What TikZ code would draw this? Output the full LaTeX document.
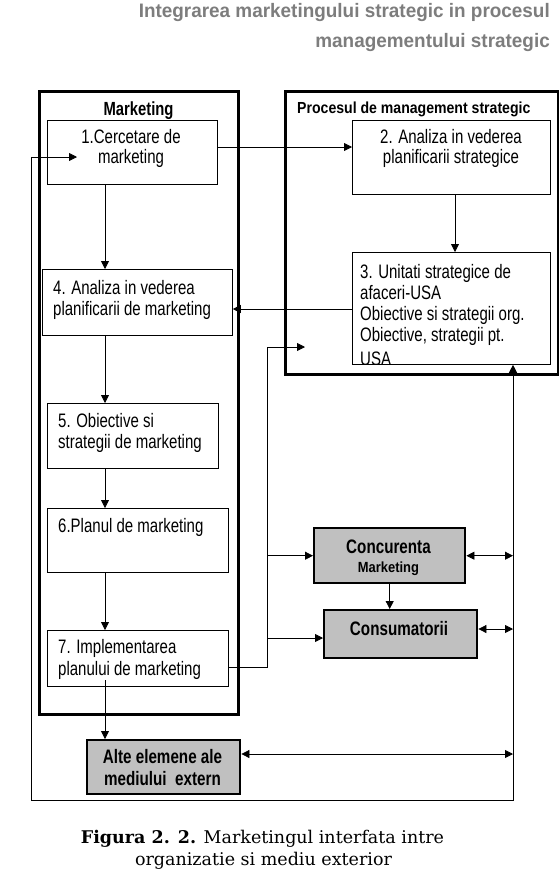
\documentclass[tikz,border=0pt]{standalone}
\usepackage{fontspec}
\setmainfont{Liberation Sans}
\newfontfamily\boxf[FakeStretch=0.77]{Liberation Sans}
\newfontfamily\grayf[FakeStretch=0.78]{Liberation Sans}
\newfontfamily\hdrf[FakeStretch=0.88]{Liberation Sans}
\newfontfamily\titlef[FakeStretch=0.97]{Liberation Sans}
\newfontfamily\capf{DejaVu Serif}
\usetikzlibrary{arrows.meta,calc}
\definecolor{titlegray}{RGB}{125,125,125}
\definecolor{boxgray}{RGB}{192,192,192}
\tikzset{
  wbox/.style={draw, line width=0.8pt, inner sep=0pt, anchor=north west},
  obox/.style={draw, line width=2.6pt, inner sep=0pt, anchor=north west},
  gbox/.style={draw, line width=2.4pt, fill=boxgray, inner sep=0pt, anchor=north west},
  txt/.style={inner sep=0pt, anchor=base west, font=\boxf\fontsize{19.5}{21}\selectfont},
  ctxt/.style={inner sep=0pt, anchor=base, font=\boxf\fontsize{19.5}{21}\selectfont},
  gtxt/.style={inner sep=0pt, anchor=base, font=\grayf\bfseries\fontsize{19.5}{21}\selectfont},
  arr/.style={line width=0.8pt, -{Triangle[length=8pt,width=8pt]}},
  darr/.style={line width=0.8pt, {Triangle[length=8pt,width=8pt]}-{Triangle[length=8pt,width=8pt]}},
}
\begin{document}
\begin{tikzpicture}[x=1pt,y=-1pt]
\useasboundingbox[fill=white] (0,0) rectangle (559,879);

% title
\node[inner sep=0pt, anchor=base east, text=titlegray, font=\titlef\bfseries\fontsize{19.5}{21}\selectfont] (t1) at (550,17) {Integrarea marketingului strategic in procesul};
\node[inner sep=0pt, anchor=base east, text=titlegray, font=\titlef\bfseries\fontsize{19.5}{21}\selectfont] (t2) at (550,47) {managementului strategic};

% outer boxes
\node[obox, minimum width=199pt, minimum height=623pt] (mk) at (38,90) {};
\node[obox, minimum width=273pt, minimum height=283pt] (pm) at (284,90) {};
\node[inner sep=0pt, anchor=base, font=\grayf\bfseries\fontsize{19}{21}\selectfont] (mkl) at (138.5,115) {Marketing};
\node[inner sep=0pt, anchor=base west, font=\hdrf\bfseries\fontsize{16}{18}\selectfont] (pml) at (297,113) {Procesul de management strategic};

% white boxes
\node[wbox, minimum width=170pt, minimum height=64pt] (b1) at (47,120) {};
\node[wbox, minimum width=198pt, minimum height=74pt] (b2) at (352,120) {};
\node[wbox, minimum width=198pt, minimum height=112pt] (b3) at (352,252) {};
\node[wbox, minimum width=190pt, minimum height=66pt] (b4) at (42,269) {};
\node[wbox, minimum width=171pt, minimum height=65pt] (b5) at (47,403) {};
\node[wbox, minimum width=181pt, minimum height=64pt] (b6) at (47,508) {};
\node[wbox, minimum width=181pt, minimum height=56pt] (b7) at (47,630) {};

% gray boxes
\node[gbox, minimum width=151pt, minimum height=55pt] (conc) at (313,527) {};
\node[gbox, minimum width=153pt, minimum height=48pt] (cons) at (323,609) {};
\node[gbox, minimum width=153pt, minimum height=54pt] (alte) at (86,739) {};

% box texts
\node[ctxt] (b1a) at (131,143) {1.Cercetare de};
\node[ctxt] (b1b) at (131,163) {marketing};
\node[ctxt] (b2a) at (451,143) {2. Analiza in vederea};
\node[ctxt] (b2b) at (451,163) {planificarii strategice};
\begin{scope}
\clip (352.4,252.4) rectangle (549.6,363.2);
\node[txt] (b3a) at (360,278) {3. Unitati strategice de};
\node[txt] (b3b) at (360,299) {afaceri-USA};
\node[txt] (b3c) at (360,320) {Obiective si strategii org.};
\node[txt] (b3d) at (360,341) {Obiective, strategii pt.};
\node[txt] (b3e) at (360,365) {USA};
\end{scope}
\node[txt] (b4a) at (53,294) {4. Analiza in vederea};
\node[txt] (b4b) at (53,315) {planificarii de marketing};
\node[txt] (b5a) at (58,427) {5. Obiective si};
\node[txt] (b5b) at (58,448) {strategii de marketing};
\node[txt] (b6a) at (58,532) {6.Planul de marketing};
\node[txt] (b7a) at (58,653) {7. Implementarea};
\node[txt] (b7b) at (58,675) {planului de marketing};

\node[gtxt] (conca) at (388.5,553) {Concurenta};
\node[inner sep=0pt, anchor=base, font=\hdrf\bfseries\fontsize{14.7}{16}\selectfont] (concb) at (388.5,572) {Marketing};
\node[gtxt] (consa) at (399,635) {Consumatorii};
\node[gtxt] (altea) at (162.5,763) {Alte elemene ale};
\node[gtxt] (alteb) at (162.5,785) {mediului\ \ extern};

% caption
\node[inner sep=0pt, anchor=base, font=\capf\fontsize{17.5}{20}\selectfont] (cap1) at (262.5,843) {\textbf{Figura 2. 2.} Marketingul interfata intre};
\node[inner sep=0pt, anchor=base, font=\capf\fontsize{17.5}{20}\selectfont] (cap2) at (263.5,865) {organizatie si mediu exterior};

% helper coordinates
\coordinate (vx) at (105,0);
\coordinate (vx2) at (455,0);
\coordinate (h12) at (0,147);
\coordinate (h34) at (0,309);
\coordinate (j1) at (267,667);
\coordinate (j2) at (267,347);
\coordinate (tipP) at (305,347);
\coordinate (hc) at (0,638);
\coordinate (hq) at (0,629);
\coordinate (ha) at (0,754);
\coordinate (r1) at (513,800);
\coordinate (l1) at (31,800);
\coordinate (l2) at (31,157);
\coordinate (tip1) at (77,157);
\coordinate (s7) at (105,680);

% connectors
\draw[arr] (b1.east |- h12) -- (b2.west |- h12);
\draw[arr] (b1.south -| vx) -- (b4.north -| vx);
\draw[arr] (b2.south -| vx2) -- (b3.north -| vx2);
\draw[arr] (b3.west |- h34) -- (b4.east |- h34);
\draw[arr] (b4.south -| vx) -- (b5.north -| vx);
\draw[arr] (b5.south -| vx) -- (b6.north -| vx);
\draw[arr] (b6.south -| vx) -- (b7.north -| vx);
\draw[arr] (s7) -- (alte.north -| vx);
\draw[arr] (b7.east |- j1) -- (j1) -- (j2) -- (tipP);
\draw[arr] (conc.west -| j1) -- (conc.west);
\draw[arr] (hc -| j1) -- (cons.west |- hc);
\draw[arr] (conc.south) -- (conc.south |- cons.north);
\draw[darr] (b3.south -| r1) -- (r1) -- (l1) -- (l2) -- (tip1);
\draw[darr] (conc.east) -- (conc.east -| r1);
\draw[darr] (cons.east |- hq) -- (r1 |- hq);
\draw[darr] (alte.east |- ha) -- (r1 |- ha);
\end{tikzpicture}
\end{document}
